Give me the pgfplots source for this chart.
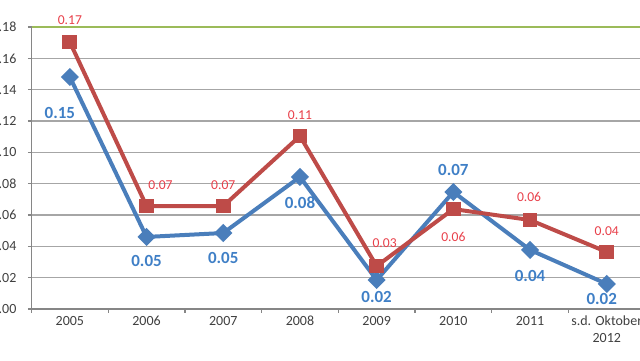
\documentclass[border=0pt]{standalone}
\usepackage{fontspec}
\setmainfont{Carlito}
\usepackage{pgfplots}
\usepackage{pgfplotstable}
\pgfplotsset{compat=1.18}

\definecolor{serblue}{HTML}{4A7EBB}
\definecolor{serred}{HTML}{BE4B48}
\definecolor{lblblue}{HTML}{3F7FC6}
\definecolor{lblred}{HTML}{E8404A}
\definecolor{gridgray}{HTML}{A6A6A6}
\definecolor{axisgray}{HTML}{868686}
\definecolor{topgreen}{HTML}{9BBB59}
\definecolor{ticktext}{HTML}{404040}

% x = category index, dx/dy = label offsets in pt
\pgfplotstableread{
x  y       dx    dy
0  0.1481  -5    -18
1  0.0460   0    -12
2  0.0485   0    -12.5
3  0.0843   0    -13
4  0.0185   0    -8.5
5  0.0747   0     11
6  0.0377   0    -13
7  0.0160  -2.5  -7.5
}\seriesblue

\pgfplotstableread{
x  y       dx    dy
0  0.1704   0     11
1  0.0657   7     10.5
2  0.0657   0     10.5
3  0.1104   0     10.5
4  0.0274   4     11.5
5  0.0638   0    -14
6  0.0568  -0.5   11.5
7  0.0364   0     10.5
}\seriesred

\begin{document}
\begin{tikzpicture}[x=1pt,y=1pt]
\useasboundingbox (0,0) rectangle (320,180);
\clip (0,0) rectangle (320,180);
\begin{axis}[
  at={(15.75pt,25.5pt)}, anchor=south west,
  scale only axis, width=306.8pt, height=141pt,
  xmin=-0.5, xmax=7.5, ymin=0, ymax=0.18,
  clip=false,
  axis x line*=bottom, axis y line*=left,
  x axis line style={draw=axisgray, line width=1.1pt},
  y axis line style={draw=axisgray, line width=0.6pt},
  tick align=outside,
  major tick length=1.8pt,
  tick style={draw=axisgray, line width=0.6pt},
  ytick={0,0.02,0.04,0.06,0.08,0.10,0.12,0.14,0.16},
  extra y ticks={0.18},
  extra y tick style={grid style={draw=topgreen, line width=0.9pt}},
  ymajorgrids,
  grid style={draw=gridgray, line width=0.7pt},
  /pgf/number format/.cd, fixed, fixed zerofill, precision=2, assume math mode=true,
  /pgfplots/.cd,
  yticklabel style={font=\fontsize{7}{8.5}\selectfont, text=ticktext, xshift=-2.2pt},
  xtick={-0.5,0.5,1.5,2.5,3.5,4.5,5.5,6.5,7.5},
  xticklabels={},
  extra x ticks={0,1,2,3,4,5,6,7},
  extra x tick labels={2005,2006,2007,2008,2009,2010,2011,{s.d. Oktober\\2012}},
  extra x tick style={major tick length=0pt},
  xticklabel style={font=\fontsize{7}{8.5}\selectfont, text=ticktext, align=center},
]
\addplot[color=serblue, line width=2pt, mark=square*,
  mark size=2.2pt, mark options={rotate=45, solid, fill=serblue},
  visualization depends on={\thisrow{dx} \as \dx},
  visualization depends on={\thisrow{dy} \as \dy},
  point meta=explicit, nodes near coords,
  nodes near coords style={font=\bfseries\fontsize{8.5}{10}\selectfont,
    text=lblblue, anchor=center, xshift=\dx pt, yshift=\dy pt}]
  table[x=x, y=y, meta=y] {\seriesblue};
\addplot[color=serred, line width=2pt, mark=square*,
  mark size=2.7pt, mark options={solid, fill=serred},
  visualization depends on={\thisrow{dx} \as \dx},
  visualization depends on={\thisrow{dy} \as \dy},
  point meta=explicit, nodes near coords,
  nodes near coords style={font=\fontsize{6.8}{8}\selectfont,
    text=lblred, anchor=center, xshift=\dx pt, yshift=\dy pt}]
  table[x=x, y=y, meta=y] {\seriesred};
\end{axis}
\end{tikzpicture}
\end{document}
